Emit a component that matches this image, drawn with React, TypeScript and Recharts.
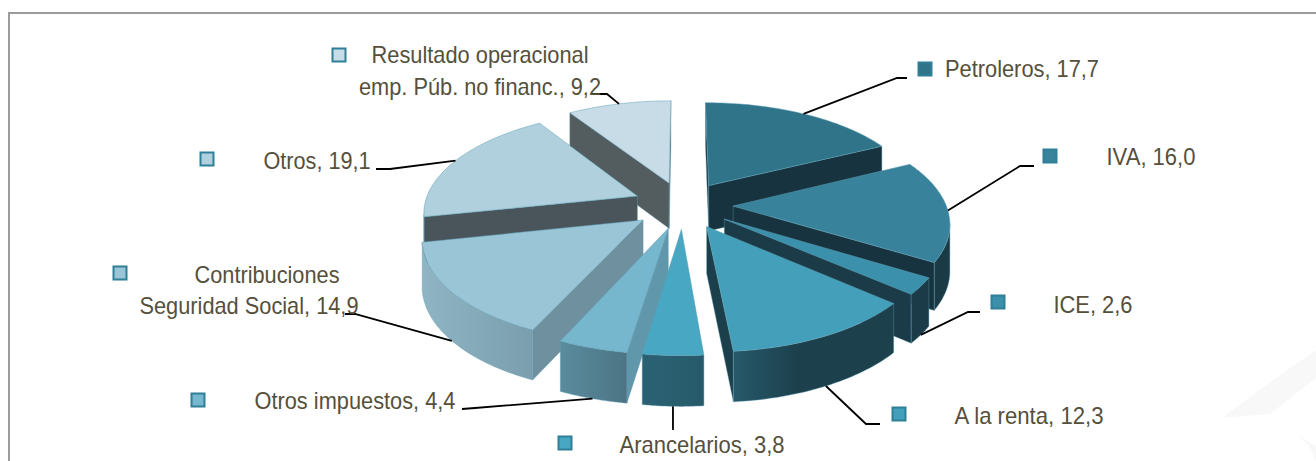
import React from "react";
import { PieChart, Pie } from "recharts";

const names = [
  "Petroleros",
  "IVA",
  "ICE",
  "A la renta",
  "Arancelarios",
  "Otros impuestos",
  "Contribuciones\nSeguridad Social",
  "Otros",
  "Resultado operacional\nemp. Púb. no financ.",
];
const values = [17.7, 16.0, 2.6, 12.3, 3.8, 4.4, 14.9, 19.1, 9.2];

// back to front, the pie has no z-index of its own
const drawOrder = [8, 0, 7, 1, 2, 6, 3, 5, 4];

const topColors = ["#2f7489", "#38839b", "#3b90ac", "#44a0ba", "#48a8c3", "#77b7ce", "#9ac5d6", "#b0d0de", "#c7dce6"];
const sideColors = ["#17333f", "#17333f", "#1a3b47", "#1b3f4b", "#2a6070", "#6097aa", "#6f909e", "#4a555b", "#535d60"];
const rimFrom = ["#17333f", "#1a3a46", "#1a3b47", "#27596b", "#2b6273", "#5a8c9e", "#8fb5c5", "#4a555b", "#535d60"];
const rimTo = ["#17333f", "#1a3a46", "#1a3b47", "#1c404c", "#265a6b", "#4c7484", "#7a9ead", "#4a555b", "#535d60"];
const rimToAt = [100, 100, 100, 40, 100, 100, 100, 100, 100];

// label layout: [x, baseline, width] per text line, the original font is a narrow one
const labelLines = [
  [[1022, 77, 154]],
  [[1151, 165, 89]],
  [[1093, 313, 79]],
  [[1029, 424, 149]],
  [[702, 453, 165]],
  [[355, 409, 201]],
  [[267, 283, 145], [249, 314, 219]],
  [[317, 169, 107]],
  [[480, 63, 217], [480, 95, 242]],
];
const markers = [
  [925, 69], [1050, 156], [998, 302], [899, 414], [565, 443],
  [198, 400], [120, 273], [207, 159], [339, 55],
];
const elbows = [
  [[897, 78], [907, 78]],
  [[1020, 166], [1034, 166]],
  [[968, 312], [980, 312]],
  [[866, 424], [880, 424]],
  [[673, 430]],
  [[475, 408], [462, 409]],
  [[355, 314], [345, 314]],
  [[390, 169], [376, 169]],
  [[607, 94], [592, 94]],
];

const chartData = names.map((name, i) => ({ name, value: values[i] }));

const CX = 683;
const CY = 205;
const RADIUS = 213;
const EXPLODE = 0.235;
const Y_SCALE = 0.47;
const PERSPECTIVE = 0.145;
const DEPTH = 46;
const RIM_STEPS = 48;

type Pt = { x: number; y: number; h: number };

// disc point -> screen, theta runs clockwise from north
const project = (cx: number, cy: number, r: number, X: number, Y: number): Pt => {
  const s = 1 / (1 + PERSPECTIVE * Y);
  return {
    x: cx + r * s * X,
    y: cy - r * Y_SCALE * s * Y,
    h: DEPTH * Math.sqrt(s),
  };
};
const toTheta = (angle: number) => ((90 - angle) * Math.PI) / 180;

const poly = (pts: Pt[], drop = false) =>
  pts.map((p) => `${p.x.toFixed(1)},${(p.y + (drop ? p.h : 0)).toFixed(1)}`);
const wallPoints = (pts: Pt[]) => [...poly(pts), ...poly(pts, true).reverse()].join(" ");

const Slice = (props: any) => {
  const { cx, cy, outerRadius, startAngle, endAngle, midAngle } = props;
  const i = names.indexOf(props.name ?? props.payload?.name);
  const mid = toTheta(midAngle ?? (startAngle + endAngle) / 2);
  const ox = EXPLODE * Math.sin(mid);
  const oy = EXPLODE * Math.cos(mid);
  const apex = project(cx, cy, outerRadius, ox, oy);
  const rim: Pt[] = [];
  const t0 = toTheta(startAngle);
  const t1 = toTheta(endAngle);
  for (let k = 0; k <= RIM_STEPS; k++) {
    const t = t0 + ((t1 - t0) * k) / RIM_STEPS;
    rim.push(project(cx, cy, outerRadius, ox + Math.sin(t), oy + Math.cos(t)));
  }
  const first = rim[0];
  const last = rim[rim.length - 1];
  const visibleRim: Pt[] = [];
  rim.forEach((p, k) => {
    const prev = rim[k - 1];
    const next = rim[k + 1];
    if ((next && next.x < p.x) || (prev && p.x < prev.x)) visibleRim.push(p);
  });
  const gradId = `rim-${i}`;
  const edge = "#5f9fb3";
  return (
    <g>
      <defs>
        <linearGradient id={gradId} x1="0" y1="0" x2="1" y2="0">
          <stop offset="0%" stopColor={rimFrom[i]} />
          <stop offset={`${rimToAt[i]}%`} stopColor={rimTo[i]} />
        </linearGradient>
      </defs>
      {first.x < apex.x && (
        <polygon points={wallPoints([apex, first])} fill={sideColors[i]} stroke={edge} strokeWidth={0.4} />
      )}
      {apex.x < last.x && (
        <polygon points={wallPoints([last, apex])} fill={sideColors[i]} stroke={edge} strokeWidth={0.4} />
      )}
      {visibleRim.length > 1 && (
        <polygon points={wallPoints(visibleRim)} fill={`url(#${gradId})`} stroke={edge} strokeWidth={0.4} />
      )}
      <polygon
        points={poly([apex, ...rim]).join(" ")}
        fill={topColors[i]}
        stroke={edge}
        strokeWidth={0.5}
      />
    </g>
  );
};

const SliceLabel = (props: any) => {
  const { cx, cy, outerRadius, midAngle, index } = props;
  const name = names[index];
  const mid = toTheta(midAngle);
  const reach = 1 + EXPLODE;
  const p = project(cx, cy, outerRadius, reach * Math.sin(mid), reach * Math.cos(mid));
  const drop = Math.cos(mid) < -0.3 ? p.h : 0;
  const line = [[p.x, p.y + drop], ...elbows[index]].map((q) => q.join(",")).join(" ");
  const value = values[index].toFixed(1).replace(".", ",");
  const lines = name.split("\n");
  const [mx, my] = markers[index];
  return (
    <g>
      <polyline points={line} fill="none" stroke="#000" strokeWidth={1.8} />
      <rect x={mx - 6.5} y={my - 6.5} width={13} height={13} fill={topColors[index]} stroke="#2e7f97" strokeWidth={2} />
      {lines.map((text, k) => (
        <text
          key={k}
          x={labelLines[index][k][0]}
          y={labelLines[index][k][1]}
          textAnchor="middle"
          textLength={labelLines[index][k][2]}
          lengthAdjust="spacingAndGlyphs"
          fill="#55503c"
          fontSize={24}
          fontFamily="'Liberation Sans', sans-serif"
        >
          {k === lines.length - 1 ? `${text}, ${value}` : text}
        </text>
      ))}
    </g>
  );
};

const NoShape = () => <g />;

export default function App() {
  return (
    <div style={{ position: "absolute", left: 0, top: 0, width: 1316, height: 461, background: "#fff", overflow: "hidden" }}>
      <div style={{ position: "absolute", left: 8, top: 12, width: 1400, height: 500, border: "2px solid #9c9c9c" }} />
      <svg width={1316} height={461} style={{ position: "absolute", left: 0, top: 0 }}>
        <polygon points="1222,418 1262,388 1316,350 1316,378 1270,414" fill="#f8f8f8" />
        <polygon points="1298,434 1316,447 1316,461 1310,447" fill="#f8f8f8" />
      </svg>
      <div style={{ position: "absolute", left: 0, top: 0 }}>
        <PieChart width={1316} height={461} margin={{ top: 0, right: 0, bottom: 0, left: 0 }}>
          {drawOrder.map((idx) => (
            <Pie
              key={idx}
              data={chartData}
              dataKey="value"
              nameKey="name"
              cx={CX}
              cy={CY}
              innerRadius={0}
              outerRadius={RADIUS}
              startAngle={90}
              endAngle={-270}
              stroke="none"
              isAnimationActive={false}
              shape={(p: any) => ((p.name ?? p.payload?.name) === names[idx] ? <Slice {...p} /> : <NoShape />)}
            />
          ))}
          <Pie
            data={chartData}
            dataKey="value"
            nameKey="name"
            cx={CX}
            cy={CY}
            innerRadius={0}
            outerRadius={RADIUS}
            startAngle={90}
            endAngle={-270}
            stroke="none"
            isAnimationActive={false}
            shape={NoShape}
            label={SliceLabel}
            labelLine={false}
          />
        </PieChart>
      </div>
    </div>
  );
}
